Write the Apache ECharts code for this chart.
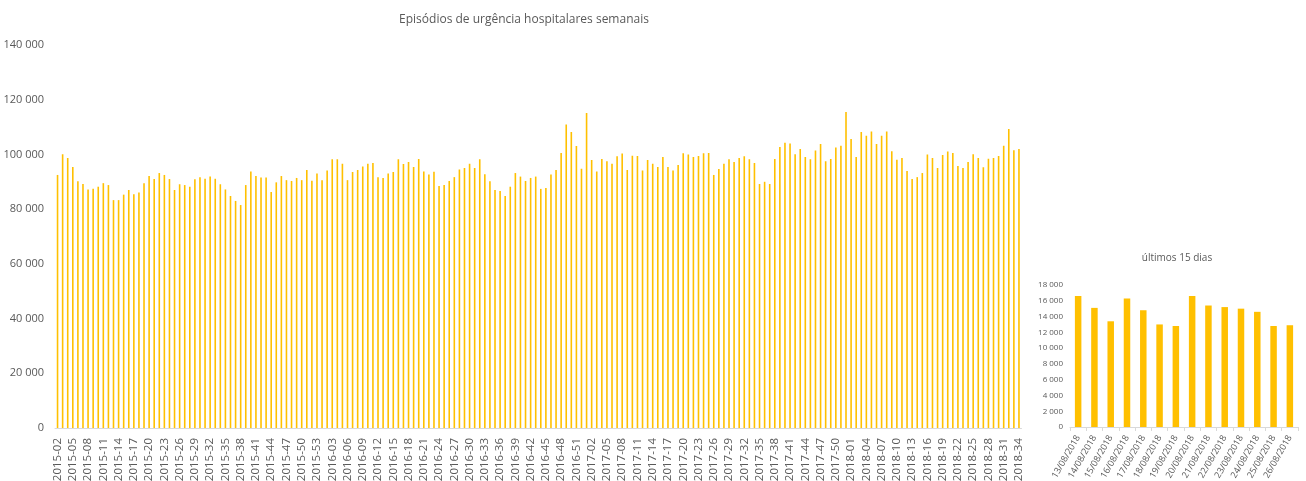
<!DOCTYPE html>
<html>
<head>
<meta charset="utf-8">
<script src="https://cdn.jsdelivr.net/npm/echarts@6/dist/echarts.min.js"></script>
<style>
html,body{margin:0;padding:0;background:#fff;}
#chart{width:1306px;height:481px;}
</style>
</head>
<body>
<div id="chart"></div>
<script>
// semanas 2015-02 .. 2018-34
var startWeek2015 = 2;
var weeksPerYear = {2015:53, 2016:52, 2017:52, 2018:34};

var val2015 = [92500,100100,98700,95400,90200,89200,87200,87500,88200,89500,88800,83300,83300,85300,87000,85400,86100,89500,92100,91000,93200,92500,91000,87000,89100,88800,88200,90900,91700,91100,91900,91100,89100,87200,84800,83000,81500,88800,93800,92100,91600,91600,86300,89800,92100,90600,90300,91400,90600,94300,90400,93000];
var val2016 = [90600,94100,98200,98200,96600,90600,93600,94300,95600,96600,96900,91700,91400,93000,93600,98200,96500,97200,95400,98300,93800,92700,93700,88500,88800,90300,91700,94500,95000,96600,95000,98200,92800,90200,87000,86600,84800,88200,93200,91900,90300,91400,91900,87400,87700,92700,94300,100500,110900,108200,103100,94800];
var val2017 = [115100,98000,93800,98300,97500,96600,99300,100300,94300,99500,99400,94100,98000,96600,95400,99100,95400,94100,96100,100400,100000,99100,99400,100400,100500,92500,94700,96600,98200,97200,98700,99300,98200,96900,89200,90000,89200,98300,102700,104300,104000,100100,102000,99100,98200,101400,103800,97500,98300,102500,103200,115500];
var val2018 = [105600,99100,108200,106800,108400,103800,106800,108400,101200,98100,98700,93900,91000,91700,93200,100000,98700,95000,99800,101100,100500,95800,95000,97200,100100,98700,95300,98400,98700,99400,103200,109300,101500,102000];

var diasLabels = ['13/08/2018','14/08/2018','15/08/2018','16/08/2018','17/08/2018','18/08/2018','19/08/2018','20/08/2018','21/08/2018','22/08/2018','23/08/2018','24/08/2018','25/08/2018','26/08/2018'];
var diasValues = [16600,15100,13400,16300,14800,13000,12800,16600,15400,15200,15000,14600,12800,12900];

var semanas = [];
for (var y in weeksPerYear) {
	var w0 = (y == 2015) ? startWeek2015 : 1;
	for (var w = w0; w <= weeksPerYear[y]; w++) {
		semanas.push(y + '-' + (w < 10 ? '0' + w : w));
	}
}
var semanal = val2015.concat(val2016, val2017, val2018);

function fmt(v){
	return String(v).replace(/\B(?=(\d{3})+(?!\d))/g, ' ');
}

var txt = '#595959';
var fam = 'Open Sans';
var myChart = echarts.init(document.getElementById('chart'));
var option = {
	animation: false,
	title: [{
		text: 'Episódios de urgência hospitalares semanais',
		left: 519, top: 9, textAlign: 'center',
		textStyle: {fontFamily: fam, fontSize: 12, fontWeight: 'normal', color: txt}
	},{
		text: 'últimos 15 dias',
		left: 1172, top: 248, textAlign: 'center',
		textStyle: {fontFamily: fam, fontSize: 10, fontWeight: 'normal', color: txt}
	}],
	grid: [
		{left: 55, right: 284.5, top: 45, bottom: 53, outerBoundsMode: 'none'},
		{left: 1070, right: 8, top: 285, bottom: 54, outerBoundsMode: 'none'}
	],
	xAxis: [{
		type: 'category',
		gridIndex: 0,
		data: semanas,
		axisLine: {lineStyle: {color: '#d9d9d9'}},
		axisTick: {show: false},
		axisLabel: {interval: 2, rotate: 90, fontFamily: fam, fontSize: 11.5, color: txt, margin: 10}
	},{
		type: 'category',
		gridIndex: 1,
		data: diasLabels,
		axisLine: {lineStyle: {color: '#d9d9d9'}},
		axisTick: {show: true, length: 4, lineStyle: {color: '#d9d9d9'}},
		axisLabel: {interval: 0, rotate: 60, fontFamily: fam, fontSize: 9, color: txt, margin: 9}
	}],
	yAxis: [{
		type: 'value',
		gridIndex: 0,
		min: 0, max: 140000, interval: 20000,
		splitLine: {show: false},
		axisLine: {show: false},
		axisLabel: {fontFamily: fam, fontSize: 11, color: txt, margin: 11, formatter: fmt}
	},{
		type: 'value',
		gridIndex: 1,
		min: 0, max: 18000, interval: 2000,
		splitLine: {show: false},
		axisLine: {show: false},
		axisLabel: {fontFamily: fam, fontSize: 8, color: txt, margin: 7, formatter: fmt}
	}],
	series: [{
		name: 'semanal',
		type: 'bar',
		xAxisIndex: 0, yAxisIndex: 0,
		data: semanal,
		barWidth: 1.6,
		itemStyle: {color: '#FFC000'}
	},{
		name: 'diario',
		type: 'bar',
		xAxisIndex: 1, yAxisIndex: 1,
		data: diasValues,
		barWidth: 6.5,
		itemStyle: {color: '#FFC000'}
	}]
};
myChart.setOption(option);
</script>
</body>
</html>
